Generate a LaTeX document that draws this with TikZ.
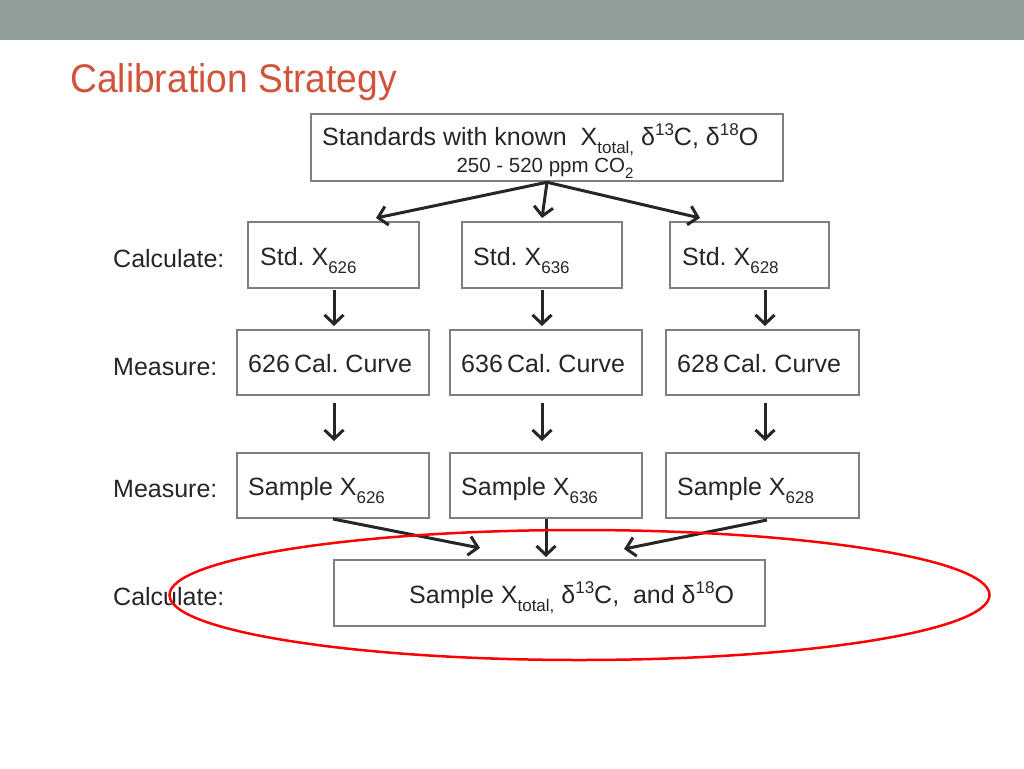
\documentclass[tikz,border=0pt]{standalone}
\usepackage{fontspec}
\setmainfont{Liberation Sans}
\usetikzlibrary{arrows.meta}
\definecolor{band}{HTML}{8F9E97}
\definecolor{titlered}{HTML}{D0533A}
\definecolor{boxgray}{HTML}{7F7F7F}
\definecolor{arrowdark}{HTML}{262626}
\frenchspacing
\newcommand\mysub[1]{\raisebox{-0.32em}{\fontsize{17}{17}\selectfont #1}}
\newcommand\mysup[1]{\raisebox{0.38em}{\fontsize{17}{17}\selectfont #1}}
\newcommand\smsub[1]{\raisebox{-0.3em}{\fontsize{15}{15}\selectfont #1}}
\tikzset{
  box/.style={draw=boxgray, line width=2.5pt, rectangle, inner sep=0pt},
  txt/.style={inner sep=0pt, anchor=base west, font=\fontsize{25}{30}\selectfont, text=black!85},
  lbl/.style={inner sep=0pt, anchor=base west, font=\fontsize{25}{30}\selectfont, text=black!85},
  arr/.style={draw=arrowdark, line width=3pt, -{Straight Barb[length=9pt,width=19pt,line width=3pt]}},
}
\begin{document}
\begin{tikzpicture}[x=1pt,y=-1pt]
\useasboundingbox (0,0) rectangle (1024,768);
\fill[band] (0,0) rectangle (1024,40);
\node[inner sep=0pt, anchor=base west, text=titlered] (title) at (70,92)
  {\scalebox{0.93}[1]{\fontsize{40}{46}\selectfont Calibration Strategy}};

% boxes
\node[box, minimum width=472, minimum height=67] (top) at (547,147.5) {};
\node[box, minimum width=171, minimum height=66] (s1) at (333.5,255) {};
\node[box, minimum width=160, minimum height=66] (s2) at (542,255) {};
\node[box, minimum width=159, minimum height=66] (s3) at (749.5,255) {};
\node[box, minimum width=192, minimum height=65] (c1) at (333,362.5) {};
\node[box, minimum width=192, minimum height=65] (c2) at (546,362.5) {};
\node[box, minimum width=193, minimum height=65] (c3) at (762.5,362.5) {};
\node[box, minimum width=192, minimum height=65] (m1) at (333,485.5) {};
\node[box, minimum width=192, minimum height=65] (m2) at (546,485.5) {};
\node[box, minimum width=193, minimum height=65] (m3) at (762.5,485.5) {};
\node[box, minimum width=431, minimum height=66] (fin) at (549.5,593) {};

% texts
\node[txt] (ttop1) at (322,145) {Standards with known\ \ X\mysub{total,} δ\mysup{13}C, δ\mysup{18}O};
\node[inner sep=0pt, anchor=base, font=\fontsize{20.5}{24}\selectfont, text=black!85] (ttop2) at (545,172) {250 - 520 ppm CO\smsub{2}};
\node[txt] (ts1) at (260,265) {Std. X\mysub{626}};
\node[txt] (ts2) at (473,265) {Std. X\mysub{636}};
\node[txt] (ts3) at (682,265) {Std. X\mysub{628}};
\node[txt] (tc1) at (248,372) {626\,Cal. Curve};
\node[txt] (tc2) at (461,372) {636\,Cal. Curve};
\node[txt] (tc3) at (677,372) {628\,Cal. Curve};
\node[txt] (tm1) at (248,495) {Sample X\mysub{626}};
\node[txt] (tm2) at (461,495) {Sample X\mysub{636}};
\node[txt] (tm3) at (677,495) {Sample X\mysub{628}};
\node[txt] (tfin) at (409,603) {Sample X\mysub{total,} δ\mysup{13}C,\ \ and δ\mysup{18}O};

\node[lbl] (l1) at (113,267) {Calculate:};
\node[lbl] (l2) at (113,375) {Measure:};
\node[lbl] (l3) at (113,497) {Measure:};
\node[lbl] (l4) at (113,605) {Calculate:};

% arrows
\coordinate (a1) at (376,218);
\coordinate (a2) at (542,218);
\coordinate (a3) at (700,218);
\draw[arr] (top.south) -- (a1);
\draw[arr] (top.south) -- (a2);
\draw[arr] (top.south) -- (a3);

\coordinate (e1) at (334,290);
\coordinate (e1e) at (334,326);
\coordinate (e2) at (542,290);
\coordinate (e2e) at (542,326);
\coordinate (e3) at (765,290);
\coordinate (e3e) at (765,326);
\draw[arr] (e1) -- (e1e);
\draw[arr] (e2) -- (e2e);
\draw[arr] (e3) -- (e3e);

\coordinate (b1) at (334,403);
\coordinate (b1e) at (334,441);
\coordinate (b2) at (542,403);
\coordinate (b2e) at (542,441);
\coordinate (b3) at (765,403);
\coordinate (b3e) at (765,441);
\draw[arr] (b1) -- (b1e);
\draw[arr] (b2) -- (b2e);
\draw[arr] (b3) -- (b3e);

\coordinate (d1) at (333,519);
\coordinate (d1e) at (480,548);
\coordinate (d2e) at (546,557);
\coordinate (d3) at (767,520);
\coordinate (d3e) at (624,549);
\draw[arr] (d1) -- (d1e);
\draw[arr] (m2.south) -- (d2e);
\draw[arr] (d3) -- (d3e);

\draw[red, line width=2.5pt] (fin.center) ++(30,2) ellipse [x radius=410, y radius=65];
\end{tikzpicture}
\end{document}
